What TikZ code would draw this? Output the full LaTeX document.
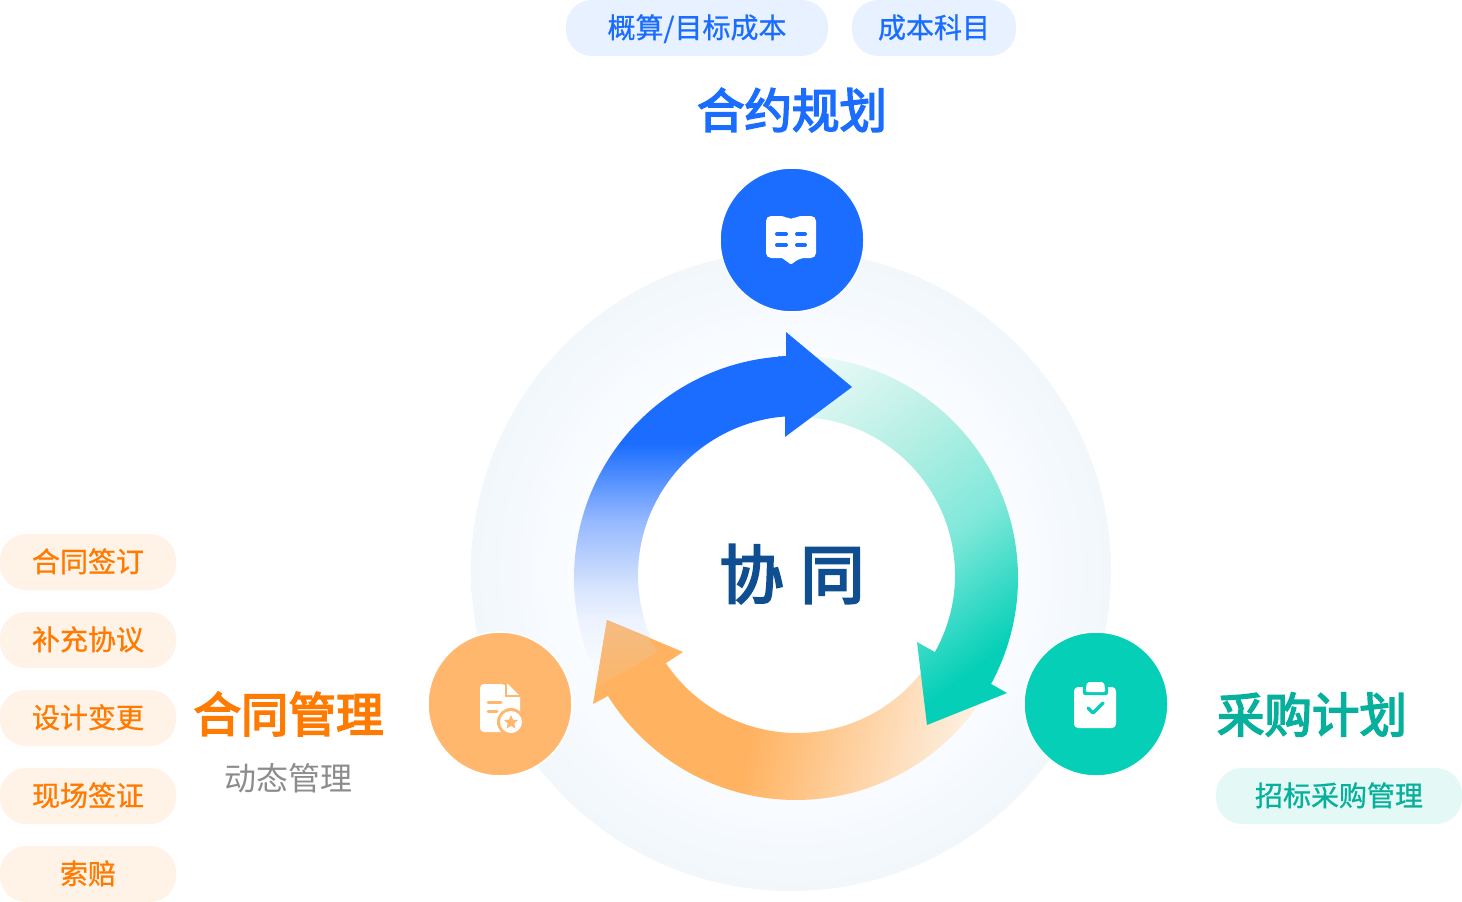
\documentclass[tikz,border=0pt]{standalone}
\usepackage{fontspec}
\setmainfont{Noto Sans CJK SC}
\newfontfamily\cjkm[FakeBold=0.8]{Noto Sans CJK SC}
\newfontfamily\cjkt[FakeBold=3.5]{Noto Sans CJK SC}
\usetikzlibrary{calc}
\definecolor{cblue}{HTML}{1A6DFF}
\definecolor{cgreen}{HTML}{06CFB7}
\definecolor{cgreent}{HTML}{06B09C}
\definecolor{corange}{HTML}{FF7A00}
\definecolor{corl}{HTML}{FFB25F}
\definecolor{corc}{HTML}{FFB66D}
\definecolor{corovA}{HTML}{F4BC82}
\definecolor{corovB}{HTML}{FBB66B}
\definecolor{pblue}{HTML}{E8F1FF}
\definecolor{porange}{HTML}{FFF2E6}
\definecolor{pgreen}{HTML}{E4F9F5}
\definecolor{bgedge}{HTML}{F1F7FB}
\definecolor{bgmid}{HTML}{F8FBFF}
\definecolor{cnavy}{HTML}{0F4F91}
\definecolor{cgray}{HTML}{8C8C8C}
\definecolor{bA}{HTML}{F6FAFE}
\definecolor{bB}{HTML}{EDF3FF}
\definecolor{bC}{HTML}{D6E4FD}
\definecolor{bD}{HTML}{94B8FF}
\definecolor{gA}{HTML}{E8F9F6}
\definecolor{gB}{HTML}{B5EFE4}
\definecolor{gC}{HTML}{7FE8DA}
\definecolor{gD}{HTML}{20D5BF}
\definecolor{oA}{HTML}{FDF0E2}
\pgfdeclareradialshading{bgrad}{\pgfpoint{0bp}{0bp}}{color(0bp)=(white); color(12bp)=(white); color(19bp)=(bgmid); color(25bp)=(bgedge); color(50bp)=(bgedge)}
\pgfdeclareverticalshading{bluefade}{100bp}{color(0bp)=(bA); color(42bp)=(bA); color(44bp)=(bB); color(45.65bp)=(bC); color(49bp)=(bD); color(52.85bp)=(cblue); color(100bp)=(cblue)}
\pgfdeclareverticalshading{greenfade}{100bp}{color(0bp)=(gA); color(41.6bp)=(gA); color(47.3bp)=(gB); color(52.5bp)=(gC); color(57.05bp)=(gD); color(58.4bp)=(cgreen); color(100bp)=(cgreen)}
\pgfdeclareverticalshading{orangefade}{100bp}{color(0bp)=(corl); color(44.6bp)=(corl); color(55.4bp)=(oA); color(100bp)=(oA)}
\tikzset{
  pill/.style={rounded corners=26pt,minimum height=56pt,inner sep=0pt,text height=22pt,text depth=2pt},
  pillblue/.style={pill,fill=pblue,text=cblue,font=\cjkm\fontsize{28}{28}\selectfont},
  pillorange/.style={pill,fill=porange,text=corange,minimum width=176pt,font=\cjkm\fontsize{28}{28}\selectfont},
  pillgreen/.style={pill,fill=pgreen,text=cgreent,font=\cjkm\fontsize{28}{28}\selectfont},
  title/.style={inner sep=0pt,font=\cjkt\fontsize{47.5}{48}\selectfont},
  badge/.style={circle,inner sep=0pt,minimum size=144pt,draw=white,line width=1.5pt},
}
\begin{document}
\begin{tikzpicture}[x=1pt,y=-1pt]
\useasboundingbox (0,0) rectangle (1462,902);
% background
\shade[shading=bgrad] (791,571) circle[radius=320];
\fill[white] (797,575) circle[radius=158];
% blue tail
\begin{scope}
\clip (796,578) ++(267.4:222) arc[start angle=267.4,end angle=151,radius=222]
  -- ($(797,575)+(151:159)$) arc[start angle=151,end angle=265.7,radius=159] -- cycle;
\shade[shading=bluefade] (297,0) rectangle (1297,1000);
\end{scope}
% orange arrow
\begin{scope}
\clip (796,578) ++(147.9:222) arc[start angle=147.9,end angle=33,radius=222]
  -- ($(797,575)+(33:158)$) arc[start angle=33,end angle=146.1,radius=158]
  -- (683,652) -- (607,620) -- (593,704) -- cycle;
\shade[shading=orangefade,shading angle=258] (342,309.5) rectangle (1342,1309.5);
\end{scope}
\shade[top color=corovA,bottom color=corovB] (607,620) -- (648,637) .. controls (651,642) and (654,647) .. (658,652) -- (596,688) -- cycle;
% green arrow
\begin{scope}
\clip (796,578) ++(-90:222) arc[start angle=-90,end angle=28.5,radius=222]
  -- (1007,693) -- (927,725) -- (917,642) -- ($(797,575)+(29.2:158)$)
  arc[start angle=29.2,end angle=-90,radius=158] -- cycle;
\shade[shading=greenfade,shading angle=216.87] (427.5,-6) rectangle (1427.5,994);
\end{scope}
% blue head
\fill[cblue] (786,332) -- (852,387) -- (785,437) -- (785,416) -- (778,416.5) -- (778,356.5) -- (786,356) -- cycle;
% centre
\node[inner sep=0pt,text=cnavy,font=\cjkt\fontsize{64}{64}\selectfont] (centre) at (792,574) {协\hspace{17pt}同};
% circles
\node[badge,fill=cblue] (cb) at (792,240) {};
\node[badge,fill=corc] (co) at (500,704) {};
\node[badge,fill=cgreen] (cg) at (1096,704) {};
% book icon
\fill[white,rounded corners=5pt] (766,216) -- (785,216) -- (791,220.5) -- (797,216) -- (816,216) -- (816,258) -- (800,258) [rounded corners=1pt] -- (791,264.5) -- (782,258) [rounded corners=5pt] -- (766,258) -- cycle;
\foreach \xa/\xb/\yy in {777/786/234,797/805/234,777/786/245,797/805/245}
  \draw[cblue,line width=4pt,line cap=round] (\xa,\yy) -- (\xb,\yy);
% doc icon
\fill[white,rounded corners=4pt] (480,684) -- (506,684) -- (506,695) [sharp corners] -- (520,698) [rounded corners=4pt] -- (520,732) -- (480,732) -- cycle;
\fill[white] (506,684) -- (508,684) -- (520,696) -- (520,698) -- (508,698) -- (506,696) -- cycle;
\draw[corc,line width=1.5pt] (506,683) -- (506,696) -- (521,696);
\draw[corc,line width=3pt,line cap=round] (488,702) -- (501,702);
\draw[corc,line width=3pt,line cap=round] (488,711) -- (497,711);
\fill[corc] (511,722) circle[radius=14];
\fill[white] (511,722) circle[radius=11];
\fill[corc] (511,715) -- (513,719.8) -- (518,720) -- (514.2,723.4) -- (515.5,728.5) -- (511,725.8) -- (506.5,728.5) -- (507.8,723.4) -- (504,720) -- (509,719.8) -- cycle;
% clipboard icon
\fill[white,rounded corners=4pt] (1074,687) rectangle (1116,728);
\fill[cgreen,rounded corners=2pt] (1083,680) rectangle (1108,695);
\fill[white,rounded corners=2pt] (1087,682) -- (1104,682) -- (1105.5,692) -- (1085.5,692) -- cycle;
\draw[cgreen,line width=3.5pt,line cap=round,line join=round] (1088,708) -- (1093,713) -- (1103,703);
% titles
\node[title,text=cblue] (t1) at (792,110) {合约规划};
\node[title,text=corange] (t2) at (288.5,714) {合同管理};
\node[title,text=cgreent] (t3) at (1312,714.5) {采购计划};
\node[inner sep=0pt,text=cgray,font=\fontsize{32}{32}\selectfont] (sub) at (288.5,778) {动态管理};
% pills
\node[pillblue,minimum width=262pt] (p1) at (697,28) {概算/目标成本};
\node[pillblue,minimum width=164pt] (p2) at (934,28) {成本科目};
\node[pillorange] (a1) at (88,562) {合同签订};
\node[pillorange] (a2) at (88,640) {补充协议};
\node[pillorange] (a3) at (88,718) {设计变更};
\node[pillorange] (a4) at (88,796) {现场签证};
\node[pillorange] (a5) at (88,874) {索赔};
\node[pillgreen,minimum width=246pt] (g1) at (1339,796) {招标采购管理};
\end{tikzpicture}
\end{document}
